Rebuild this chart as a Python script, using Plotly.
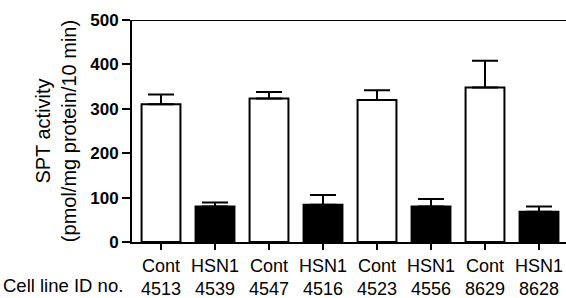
import plotly.graph_objects as go

groups = ["Cont", "HSN1", "Cont", "HSN1", "Cont", "HSN1", "Cont", "HSN1"]
cell_ids = ["4513", "4539", "4547", "4516", "4523", "4556", "8629", "8628"]
spt_activity = [310, 80, 323, 84, 320, 80, 348, 68]
spt_error = [22, 9, 15, 22, 22, 17, 60, 12]
y_ticks = [0, 100, 200, 300, 400, 500]

x_pos = list(range(len(groups)))
fill_colors = ["white" if g == "Cont" else "black" for g in groups]
ticktext = [f"{g}<br>{c}" for g, c in zip(groups, cell_ids)]

FONT = "Liberation Sans, Arial, sans-serif"

fig = go.Figure()
fig.add_trace(go.Bar(
    x=x_pos, y=spt_activity, width=0.72,
    marker=dict(color=fill_colors, line=dict(color="black", width=2)),
    error_y=dict(type="data", array=spt_error, arrayminus=[0] * len(spt_error),
                 symmetric=False, color="black", thickness=2, width=13),
    showlegend=False,
    cliponaxis=False,
))

fig.add_shape(type="line", xref="paper", yref="y", x0=0, x1=1, y0=500, y1=500,
              line=dict(color="black", width=2))

fig.add_annotation(text="Cell line ID no.", xref="paper", yref="paper",
                   x=-131 / 434, y=-43 / 222, xanchor="left", yanchor="middle",
                   showarrow=False, font=dict(family=FONT, size=18.5, color="black"))

fig.update_layout(
    width=566, height=298,
    margin=dict(l=132, r=0, t=20, b=56, autoexpand=False),
    plot_bgcolor="white", paper_bgcolor="white",
    font=dict(family=FONT, color="black"),
    bargap=0.28,
)
fig.update_xaxes(
    range=[-0.537, 7.5], tickvals=x_pos, ticktext=ticktext,
    ticks="outside", ticklen=6, tickwidth=2, tickcolor="black",
    showline=True, linecolor="black", linewidth=2, showgrid=False, zeroline=False,
    tickfont=dict(family=FONT, size=18, color="black"), automargin=False,
)
fig.update_yaxes(
    range=[0, 500], tickvals=y_ticks,
    ticks="outside", ticklen=8, tickwidth=2, tickcolor="black",
    showline=True, linecolor="black", linewidth=2, showgrid=False, zeroline=False,
    tickfont=dict(family=FONT, size=17, color="black", weight="bold"),
    title=dict(text="SPT activity<br>(pmol/mg protein/10 min)",
               font=dict(family=FONT, size=20, color="black"), standoff=8),
    automargin=False,
)

fig.write_html("out.html", config={"displayModeBar": False},
               post_script="document.body.style.margin='0';document.body.style.overflow='hidden';")
